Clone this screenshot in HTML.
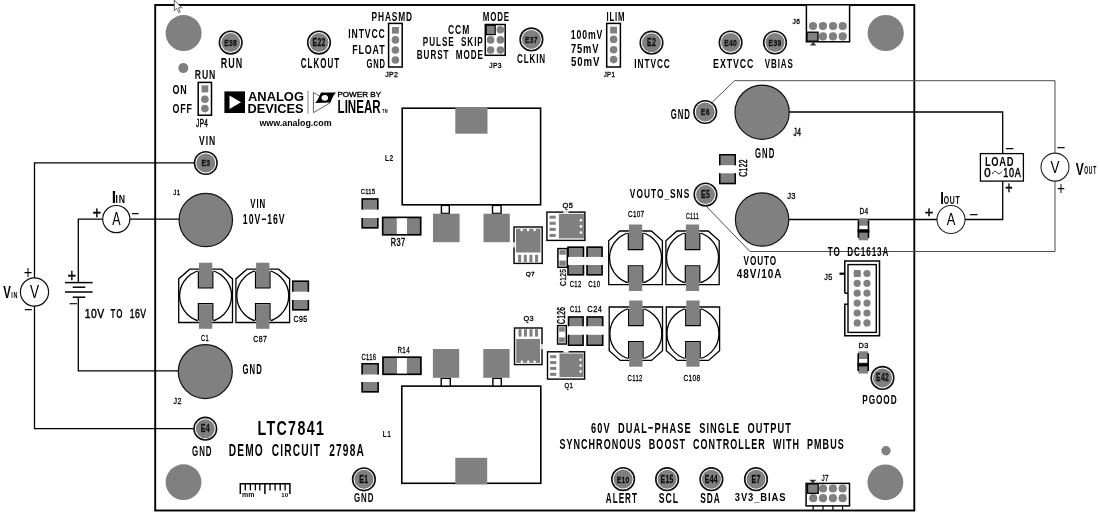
<!DOCTYPE html><html><head><meta charset="utf-8"><style>html,body{margin:0;padding:0;background:#fff;width:1100px;height:516px;overflow:hidden}svg{display:block;filter:grayscale(1);font-family:"Liberation Sans",sans-serif}text{white-space:pre}</style></head><body>
<svg width="1100" height="516" viewBox="0 0 1100 516">
<rect width="1100" height="516" fill="#fff"/>
<rect x="155.2" y="5" width="759.1" height="505.5" fill="none" stroke="#000" stroke-width="1.9"/>
<circle cx="183.6" cy="33.1" r="18" fill="#808080"/>
<circle cx="885.7" cy="33" r="18.1" fill="#808080"/>
<circle cx="183.5" cy="482.2" r="17.9" fill="#808080"/>
<circle cx="885.4" cy="482.3" r="17.9" fill="#808080"/>
<circle cx="183.3" cy="68.1" r="5" fill="#808080"/>
<circle cx="886" cy="450.7" r="4.7" fill="#808080"/>
<path d="M194.3,162.9 L34.5,162.9 L34.5,277.9" fill="none" stroke="#000" stroke-width="1.3" stroke-linejoin="miter"/>
<circle cx="34.5" cy="292" r="14.1" fill="#fff" stroke="#111" stroke-width="1.2"/>
<path d="M34.5,306.1 L34.5,428.6 L193.9,428.6" fill="none" stroke="#000" stroke-width="1.3" stroke-linejoin="miter"/>
<text transform="translate(3.29,297.65) scale(0.7316,1)" font-size="15.65" font-weight="bold" fill="#000" letter-spacing="1.476">V</text>
<text transform="translate(11.2,297.65) scale(0.5505,1)" font-size="9.86" font-weight="bold" fill="#000" letter-spacing="1.235">IN</text>
<text transform="translate(29.98,298.15) scale(0.7622,1)" font-size="17.83" font-weight="normal" fill="#000" letter-spacing="0.807">V</text>
<text transform="translate(23.82,279.12) scale(0.7883,1)" font-size="18.57" font-weight="normal" fill="#000" letter-spacing="0.577">+</text>
<text transform="translate(24.17,314.41) scale(1.0584,1)" font-size="12.86" font-weight="normal" fill="#000" letter-spacing="0.043" stroke="#000" stroke-width="0.3">−</text>
<path d="M102.7,219.1 L78.3,219.1 L78.3,282.6" fill="none" stroke="#000" stroke-width="1.3" stroke-linejoin="miter"/>
<path d="M129.9,219.1 L179,219.1" fill="none" stroke="#000" stroke-width="1.3" stroke-linejoin="miter"/>
<circle cx="116.3" cy="219.1" r="13.6" fill="#fff" stroke="#111" stroke-width="1.2"/>
<text transform="translate(112.15,225.45) scale(0.6835,1)" font-size="18.26" font-weight="normal" fill="#000" letter-spacing="0.922">A</text>
<text transform="translate(111.82,202.65) scale(0.9197,1)" font-size="17.25" font-weight="bold" fill="#000" letter-spacing="1.294">I</text>
<text transform="translate(115.58,202.65) scale(0.8224,1)" font-size="10.58" font-weight="bold" fill="#000" letter-spacing="0.888">IN</text>
<text transform="translate(92.62,217.62) scale(0.8966,1)" font-size="16.33" font-weight="normal" fill="#000" letter-spacing="0.446" stroke="#000" stroke-width="0.45">+</text>
<text transform="translate(131.52,217.71) scale(0.9782,1)" font-size="12.86" font-weight="normal" fill="#000" letter-spacing="0.046" stroke="#000" stroke-width="0.3">−</text>
<path d="M65,282.6 L92.6,282.6" fill="none" stroke="#000" stroke-width="1.5" stroke-linejoin="miter"/>
<path d="M72.7,287.2 L85.3,287.2" fill="none" stroke="#000" stroke-width="1.5" stroke-linejoin="miter"/>
<path d="M65,292 L92.6,292" fill="none" stroke="#000" stroke-width="1.5" stroke-linejoin="miter"/>
<path d="M72.7,297.2 L85.3,297.2" fill="none" stroke="#000" stroke-width="1.5" stroke-linejoin="miter"/>
<path d="M78.3,297.2 L78.3,370.9 L178.4,370.9" fill="none" stroke="#000" stroke-width="1.3" stroke-linejoin="miter"/>
<text transform="translate(67.42,282) scale(0.7970,1)" font-size="18.37" font-weight="normal" fill="#000" letter-spacing="0.565" stroke="#000" stroke-width="0.45">+</text>
<text transform="translate(69.43,307.05) scale(1.4433,1)" font-size="10" font-weight="normal" fill="#000" stroke="#000" stroke-width="0.3">−</text>
<text transform="translate(84.87,318.02) scale(0.8191,1)" font-size="12.68" font-weight="normal" fill="#000" letter-spacing="0.549" stroke="#000" stroke-width="0.45">10V</text>
<text transform="translate(110.57,318.02) scale(0.6335,1)" font-size="12.68" font-weight="bold" fill="#000" letter-spacing="1.421">TO</text>
<text transform="translate(129.7,318.02) scale(0.6842,1)" font-size="12.68" font-weight="normal" fill="#000" letter-spacing="0.658" stroke="#000" stroke-width="0.45">16V</text>
<path d="M712.3,102.2 L734.6,80.7 L1055,80.7 L1055,153.1" fill="none" stroke="#4d4d4d" stroke-width="1.0" stroke-linejoin="miter"/>
<path d="M1055,181.1 L1055,251.5 L750,251.5 L706.6,206.6" fill="none" stroke="#4d4d4d" stroke-width="1.0" stroke-linejoin="miter"/>
<circle cx="1055" cy="167.1" r="14" fill="#fff" stroke="#222" stroke-width="1.1"/>
<text transform="translate(1050.58,173.15) scale(0.7856,1)" font-size="17.1" font-weight="normal" fill="#000" letter-spacing="0.751">V</text>
<text transform="translate(1075.69,174.55) scale(0.6993,1)" font-size="17.25" font-weight="bold" fill="#000" letter-spacing="1.702">V</text>
<text transform="translate(1084.15,174.43) scale(0.4354,1)" font-size="11.55" font-weight="bold" fill="#000" letter-spacing="1.883">OUT</text>
<text transform="translate(1057.07,152.41) scale(1.0584,1)" font-size="12.86" font-weight="normal" fill="#000" letter-spacing="0.043" stroke="#000" stroke-width="0.3">−</text>
<text transform="translate(1057.07,194.6) scale(0.7409,1)" font-size="18.37" font-weight="normal" fill="#000" letter-spacing="0.607">+</text>
<path d="M789,112 L1002.7,112 L1002.7,153.6" fill="none" stroke="#000" stroke-width="1.3" stroke-linejoin="miter"/>
<rect x="980.4" y="153.6" width="43" height="27.5" fill="#fff" stroke="#000" stroke-width="1.3"/>
<text transform="translate(985.04,165.72) scale(0.7411,1)" font-size="12.68" font-weight="bold" fill="#000" letter-spacing="0.810">LOAD</text>
<text transform="translate(984.19,177.32) scale(0.8940,1)" font-size="12.82" font-weight="normal" fill="#000" letter-spacing="0.509" stroke="#000" stroke-width="0.5">0</text>
<path d="M992.3,174 C994,170.5 996,171 997,172.6 C998,174.2 1000,174.5 1001.7,171.5" fill="none" stroke="#000" stroke-width="0.9"/>
<text transform="translate(1003.37,177.32) scale(0.7114,1)" font-size="12.82" font-weight="normal" fill="#000" letter-spacing="0.843" stroke="#000" stroke-width="0.5">10A</text>
<text transform="translate(1005.22,152.61) scale(1.1386,1)" font-size="12.86" font-weight="normal" fill="#000" letter-spacing="0.040" stroke="#000" stroke-width="0.3">−</text>
<text transform="translate(1005.32,193.42) scale(0.7704,1)" font-size="16.33" font-weight="normal" fill="#000" letter-spacing="0.519" stroke="#000" stroke-width="0.45">+</text>
<path d="M1002.7,181.1 L1002.7,219.5 L965,219.5" fill="none" stroke="#000" stroke-width="1.3" stroke-linejoin="miter"/>
<circle cx="951" cy="219.5" r="14" fill="#fff" stroke="#222" stroke-width="1.1"/>
<text transform="translate(946.85,225.15) scale(0.7562,1)" font-size="17.1" font-weight="normal" fill="#000" letter-spacing="0.780">A</text>
<path d="M937,219.5 L789,219.5" fill="none" stroke="#000" stroke-width="1.3" stroke-linejoin="miter"/>
<text transform="translate(940.2,203.65) scale(0.7598,1)" font-size="17.25" font-weight="bold" fill="#000" letter-spacing="1.566">I</text>
<text transform="translate(943.68,203.54) scale(0.6248,1)" font-size="10.99" font-weight="bold" fill="#000" letter-spacing="1.248">OUT</text>
<text transform="translate(924.82,217.44) scale(1.0247,1)" font-size="14.29" font-weight="normal" fill="#000" letter-spacing="0.342" stroke="#000" stroke-width="0.45">+</text>
<text transform="translate(969.43,218.51) scale(1.1226,1)" font-size="12.86" font-weight="normal" fill="#000" letter-spacing="0.040" stroke="#000" stroke-width="0.3">−</text>
<circle cx="205.8" cy="220" r="26.7" fill="#808080" stroke="#111" stroke-width="1.2"/>
<circle cx="205.3" cy="371.6" r="27" fill="#808080" stroke="#111" stroke-width="1.2"/>
<circle cx="762.1" cy="112.2" r="27.1" fill="#808080" stroke="#111" stroke-width="1.2"/>
<circle cx="762.1" cy="219.5" r="26.7" fill="#808080" stroke="#111" stroke-width="1.2"/>
<circle cx="230.7" cy="42.6" r="11.3" fill="#fff" stroke="#111" stroke-width="1.6"/>
<circle cx="230.7" cy="42.6" r="9.5" fill="#808080"/>
<text transform="translate(224.29,46) scale(0.6827,1)" font-size="9.86" font-weight="bold" fill="#111" letter-spacing="0.439" stroke="#111" stroke-width="0.3">E38</text>
<circle cx="319" cy="42.6" r="11.3" fill="#fff" stroke="#111" stroke-width="1.6"/>
<circle cx="319" cy="42.6" r="9.5" fill="#808080"/>
<text transform="translate(312.54,46.1) scale(0.6830,1)" font-size="10" font-weight="bold" fill="#111" letter-spacing="0.439" stroke="#111" stroke-width="0.3">E22</text>
<circle cx="531.4" cy="39.4" r="11.3" fill="#fff" stroke="#111" stroke-width="1.6"/>
<circle cx="531.4" cy="39.4" r="9.5" fill="#808080"/>
<text transform="translate(525.03,42.8) scale(0.6825,1)" font-size="9.86" font-weight="bold" fill="#111" letter-spacing="0.440" stroke="#111" stroke-width="0.3">E37</text>
<circle cx="651.5" cy="42.7" r="11.3" fill="#fff" stroke="#111" stroke-width="1.6"/>
<circle cx="651.5" cy="42.7" r="9.5" fill="#808080"/>
<text transform="translate(647.04,46.2) scale(0.6920,1)" font-size="10" font-weight="bold" fill="#111" letter-spacing="0.434" stroke="#111" stroke-width="0.3">E2</text>
<circle cx="730.6" cy="42.5" r="11.3" fill="#fff" stroke="#111" stroke-width="1.6"/>
<circle cx="730.6" cy="42.5" r="9.5" fill="#808080"/>
<text transform="translate(724.23,45.9) scale(0.6825,1)" font-size="9.86" font-weight="bold" fill="#111" letter-spacing="0.440" stroke="#111" stroke-width="0.3">E40</text>
<circle cx="775" cy="42.5" r="11.3" fill="#fff" stroke="#111" stroke-width="1.6"/>
<circle cx="775" cy="42.5" r="9.5" fill="#808080"/>
<text transform="translate(768.61,45.9) scale(0.6826,1)" font-size="9.86" font-weight="bold" fill="#111" letter-spacing="0.439" stroke="#111" stroke-width="0.3">E39</text>
<circle cx="705.2" cy="112" r="11.3" fill="#fff" stroke="#111" stroke-width="1.6"/>
<circle cx="705.2" cy="112" r="9.5" fill="#808080"/>
<text transform="translate(700.79,115.4) scale(0.6917,1)" font-size="9.86" font-weight="bold" fill="#111" letter-spacing="0.434" stroke="#111" stroke-width="0.3">E6</text>
<circle cx="705.5" cy="194.6" r="11.3" fill="#fff" stroke="#111" stroke-width="1.6"/>
<circle cx="705.5" cy="194.6" r="9.5" fill="#808080"/>
<text transform="translate(700.99,198) scale(0.6923,1)" font-size="10" font-weight="bold" fill="#111" letter-spacing="0.433" stroke="#111" stroke-width="0.3">E5</text>
<circle cx="205.8" cy="163" r="11.3" fill="#fff" stroke="#111" stroke-width="1.6"/>
<circle cx="205.8" cy="163" r="9.5" fill="#808080"/>
<text transform="translate(201.39,166.4) scale(0.6917,1)" font-size="9.86" font-weight="bold" fill="#111" letter-spacing="0.434" stroke="#111" stroke-width="0.3">E3</text>
<circle cx="205.3" cy="428.7" r="11.3" fill="#fff" stroke="#111" stroke-width="1.6"/>
<circle cx="205.3" cy="428.7" r="9.5" fill="#808080"/>
<text transform="translate(200.65,432.2) scale(0.6931,1)" font-size="10.14" font-weight="bold" fill="#111" letter-spacing="0.433" stroke="#111" stroke-width="0.3">E4</text>
<circle cx="363.9" cy="479.3" r="11.3" fill="#fff" stroke="#111" stroke-width="1.6"/>
<circle cx="363.9" cy="479.3" r="9.5" fill="#808080"/>
<text transform="translate(359.32,482.8) scale(0.6927,1)" font-size="10.14" font-weight="bold" fill="#111" letter-spacing="0.433" stroke="#111" stroke-width="0.3">E1</text>
<circle cx="623.1" cy="479.1" r="11.3" fill="#fff" stroke="#111" stroke-width="1.6"/>
<circle cx="623.1" cy="479.1" r="9.5" fill="#808080"/>
<text transform="translate(616.73,482.5) scale(0.6825,1)" font-size="9.86" font-weight="bold" fill="#111" letter-spacing="0.440" stroke="#111" stroke-width="0.3">E10</text>
<circle cx="667.1" cy="479.2" r="11.3" fill="#fff" stroke="#111" stroke-width="1.6"/>
<circle cx="667.1" cy="479.2" r="9.5" fill="#808080"/>
<text transform="translate(660.58,482.6) scale(0.6834,1)" font-size="10" font-weight="bold" fill="#111" letter-spacing="0.439" stroke="#111" stroke-width="0.3">E15</text>
<circle cx="711.4" cy="479.2" r="11.3" fill="#fff" stroke="#111" stroke-width="1.6"/>
<circle cx="711.4" cy="479.2" r="9.5" fill="#808080"/>
<text transform="translate(704.71,482.7) scale(0.6843,1)" font-size="10.14" font-weight="bold" fill="#111" letter-spacing="0.438" stroke="#111" stroke-width="0.3">E44</text>
<circle cx="756" cy="479.2" r="11.3" fill="#fff" stroke="#111" stroke-width="1.6"/>
<circle cx="756" cy="479.2" r="9.5" fill="#808080"/>
<text transform="translate(751.48,482.7) scale(0.6923,1)" font-size="10.14" font-weight="bold" fill="#111" letter-spacing="0.433" stroke="#111" stroke-width="0.3">E7</text>
<circle cx="882.5" cy="377.9" r="11.3" fill="#fff" stroke="#111" stroke-width="1.6"/>
<circle cx="882.5" cy="377.9" r="9.5" fill="#808080"/>
<text transform="translate(876.04,381.4) scale(0.6830,1)" font-size="10" font-weight="bold" fill="#111" letter-spacing="0.439" stroke="#111" stroke-width="0.3">E42</text>
<rect x="198.2" y="82.4" width="13.3" height="32.8" fill="#fff" stroke="#000" stroke-width="1.5"/>
<rect x="201.6" y="85.3" width="6.7" height="7.1" fill="#808080"/>
<circle cx="204.9" cy="99.2" r="3.8" fill="#808080"/>
<circle cx="204.9" cy="108.6" r="3.8" fill="#808080"/>
<rect x="388.6" y="23.4" width="13.6" height="43.6" fill="#fff" stroke="#000" stroke-width="1.5"/>
<rect x="392" y="27" width="6.9" height="6.6" fill="#808080"/>
<circle cx="395.4" cy="39.9" r="3.8" fill="#808080"/>
<circle cx="395.4" cy="50" r="3.8" fill="#808080"/>
<circle cx="395.4" cy="60" r="3.8" fill="#808080"/>
<rect x="606.7" y="23.4" width="13.7" height="43.6" fill="#fff" stroke="#000" stroke-width="1.5"/>
<rect x="610.2" y="26.7" width="6.8" height="6.8" fill="#808080"/>
<circle cx="613.6" cy="39.4" r="3.8" fill="#808080"/>
<circle cx="613.6" cy="49.7" r="3.8" fill="#808080"/>
<circle cx="613.6" cy="59.6" r="3.8" fill="#808080"/>
<rect x="485.3" y="24.5" width="19.9" height="30.8" fill="#fff" stroke="#000" stroke-width="1.5"/>
<circle cx="490.6" cy="29.8" r="3.8" fill="#808080"/>
<circle cx="490.6" cy="39.9" r="3.8" fill="#808080"/>
<circle cx="490.6" cy="50" r="3.8" fill="#808080"/>
<circle cx="500.4" cy="29.8" r="3.8" fill="#808080"/>
<circle cx="500.4" cy="39.9" r="3.8" fill="#808080"/>
<circle cx="500.4" cy="50" r="3.8" fill="#808080"/>
<rect x="486.2" y="25.3" width="9" height="9.3" fill="#808080" stroke="#000" stroke-width="1.2"/>
<rect x="806.4" y="4.8" width="43.2" height="37" fill="#fff" stroke="#000" stroke-width="1.5"/>
<circle cx="813" cy="26" r="4.1" fill="#808080"/>
<circle cx="813" cy="36.4" r="4.1" fill="#808080"/>
<circle cx="822.9" cy="26" r="4.1" fill="#808080"/>
<circle cx="822.9" cy="36.4" r="4.1" fill="#808080"/>
<circle cx="833" cy="26" r="4.1" fill="#808080"/>
<circle cx="833" cy="36.4" r="4.1" fill="#808080"/>
<circle cx="842.7" cy="26" r="4.1" fill="#808080"/>
<circle cx="842.7" cy="36.4" r="4.1" fill="#808080"/>
<rect x="807" y="32.2" width="11" height="9" fill="#808080" stroke="#000" stroke-width="1.3"/>
<path d="M810,45.6 L816.4,45.6 L813.2,42 Z" fill="#333"/>
<rect x="806.1" y="483.4" width="43.4" height="22.5" fill="#fff" stroke="#000" stroke-width="1.5"/>
<circle cx="813.2" cy="488.5" r="4.1" fill="#808080"/>
<circle cx="813.2" cy="498.2" r="4.1" fill="#808080"/>
<path d="M813.2,505.9 L813.2,511" fill="none" stroke="#000" stroke-width="1.2" stroke-linejoin="miter"/>
<circle cx="823" cy="488.5" r="4.1" fill="#808080"/>
<circle cx="823" cy="498.2" r="4.1" fill="#808080"/>
<path d="M823,505.9 L823,511" fill="none" stroke="#000" stroke-width="1.2" stroke-linejoin="miter"/>
<circle cx="832.9" cy="488.5" r="4.1" fill="#808080"/>
<circle cx="832.9" cy="498.2" r="4.1" fill="#808080"/>
<path d="M832.9,505.9 L832.9,511" fill="none" stroke="#000" stroke-width="1.2" stroke-linejoin="miter"/>
<circle cx="842.6" cy="488.5" r="4.1" fill="#808080"/>
<circle cx="842.6" cy="498.2" r="4.1" fill="#808080"/>
<path d="M842.6,505.9 L842.6,511" fill="none" stroke="#000" stroke-width="1.2" stroke-linejoin="miter"/>
<rect x="807.5" y="483.9" width="10.7" height="9.4" fill="#808080" stroke="#000" stroke-width="1.3"/>
<path d="M809.2,479.8 L816.4,479.8 L812.8,483.2 Z" fill="#333"/>
<path d="M844.8,293.2 L844.8,261.1 L879.5,261.1 L879.5,335.8 L844.8,335.8 L844.8,304.3 L848,304.3 M844.8,293.2 L848,293.2" fill="none" stroke="#000" stroke-width="1.5"/>
<rect x="848" y="264.6" width="28.3" height="67.8" fill="none" stroke="#000" stroke-width="1.4"/>
<circle cx="857.2" cy="273.5" r="3.6" fill="#808080"/>
<circle cx="857.2" cy="283.3" r="3.6" fill="#808080"/>
<circle cx="857.2" cy="293.2" r="3.6" fill="#808080"/>
<circle cx="857.2" cy="303.1" r="3.6" fill="#808080"/>
<circle cx="857.2" cy="313" r="3.6" fill="#808080"/>
<circle cx="857.2" cy="322.9" r="3.6" fill="#808080"/>
<circle cx="867" cy="273.5" r="3.6" fill="#808080"/>
<circle cx="867" cy="283.3" r="3.6" fill="#808080"/>
<circle cx="867" cy="293.2" r="3.6" fill="#808080"/>
<circle cx="867" cy="303.1" r="3.6" fill="#808080"/>
<circle cx="867" cy="313" r="3.6" fill="#808080"/>
<circle cx="867" cy="322.9" r="3.6" fill="#808080"/>
<rect x="853.9" y="270" width="6.7" height="7" fill="#808080"/>
<rect x="839.5" y="272.6" width="5" height="2.2" fill="#000"/>
<rect x="858.6" y="218.4" width="9.7" height="21.9" fill="#808080"/>
<rect x="858.8" y="225.7" width="9.3" height="3.5" fill="#fff"/>
<rect x="857.6" y="229.4" width="11.7" height="3.2" fill="#000"/>
<rect x="857.6" y="220.4" width="1.6" height="17.4" fill="#000"/>
<rect x="867.7" y="220.4" width="1.6" height="17.4" fill="#000"/>
<rect x="858.4" y="351.3" width="9.6" height="22.2" fill="#808080"/>
<rect x="858.6" y="359" width="9.2" height="3.6" fill="#fff"/>
<rect x="857.4" y="363.2" width="11.6" height="3.2" fill="#000"/>
<rect x="857.4" y="353.3" width="1.6" height="17.7" fill="#000"/>
<rect x="867.4" y="353.3" width="1.6" height="17.7" fill="#000"/>
<rect x="719" y="154" width="17" height="11.2" fill="#808080"/>
<rect x="719" y="173.3" width="17" height="10.9" fill="#808080"/>
<path d="M719.75,165.2 L719.75,154.75 L735.25,154.75 L735.25,165.2" fill="none" stroke="#000" stroke-width="1.5" stroke-linejoin="miter"/>
<path d="M719.75,173.3 L719.75,183.45 L735.25,183.45 L735.25,173.3" fill="none" stroke="#000" stroke-width="1.5" stroke-linejoin="miter"/>
<rect x="361.5" y="198.3" width="17" height="11.3" fill="#808080"/>
<rect x="361.5" y="218" width="17" height="10.6" fill="#808080"/>
<path d="M362.25,209.6 L362.25,199.05 L377.75,199.05 L377.75,209.6" fill="none" stroke="#000" stroke-width="1.5" stroke-linejoin="miter"/>
<path d="M362.25,218 L362.25,227.85 L377.75,227.85 L377.75,218" fill="none" stroke="#000" stroke-width="1.5" stroke-linejoin="miter"/>
<rect x="361.4" y="363" width="17.5" height="11.5" fill="#808080"/>
<rect x="361.4" y="382" width="17.5" height="10.6" fill="#808080"/>
<path d="M362.15,374.5 L362.15,363.75 L378.15,363.75 L378.15,374.5" fill="none" stroke="#000" stroke-width="1.5" stroke-linejoin="miter"/>
<path d="M362.15,382 L362.15,391.85 L378.15,391.85 L378.15,382" fill="none" stroke="#000" stroke-width="1.5" stroke-linejoin="miter"/>
<rect x="292" y="280.6" width="17.1" height="11.1" fill="#808080"/>
<rect x="292" y="300" width="17.1" height="10.5" fill="#808080"/>
<path d="M292.75,291.7 L292.75,281.35 L308.35,281.35 L308.35,291.7" fill="none" stroke="#000" stroke-width="1.5" stroke-linejoin="miter"/>
<path d="M292.75,300 L292.75,309.75 L308.35,309.75 L308.35,300" fill="none" stroke="#000" stroke-width="1.5" stroke-linejoin="miter"/>
<rect x="567.3" y="246.4" width="16.9" height="10.5" fill="#808080"/>
<rect x="567.3" y="265" width="16.9" height="10.5" fill="#808080"/>
<path d="M568.05,256.9 L568.05,247.15 L583.45,247.15 L583.45,256.9" fill="none" stroke="#000" stroke-width="1.5" stroke-linejoin="miter"/>
<path d="M568.05,265 L568.05,274.75 L583.45,274.75 L583.45,265" fill="none" stroke="#000" stroke-width="1.5" stroke-linejoin="miter"/>
<rect x="586.3" y="246.4" width="16.5" height="10.5" fill="#808080"/>
<rect x="586.3" y="265" width="16.5" height="10.5" fill="#808080"/>
<path d="M587.05,256.9 L587.05,247.15 L602.05,247.15 L602.05,256.9" fill="none" stroke="#000" stroke-width="1.5" stroke-linejoin="miter"/>
<path d="M587.05,265 L587.05,274.75 L602.05,274.75 L602.05,265" fill="none" stroke="#000" stroke-width="1.5" stroke-linejoin="miter"/>
<rect x="567.8" y="316.2" width="16" height="10" fill="#808080"/>
<rect x="567.8" y="334.8" width="16" height="11.1" fill="#808080"/>
<path d="M568.55,326.2 L568.55,316.95 L583.05,316.95 L583.05,326.2" fill="none" stroke="#000" stroke-width="1.5" stroke-linejoin="miter"/>
<path d="M568.55,334.8 L568.55,345.15 L583.05,345.15 L583.05,334.8" fill="none" stroke="#000" stroke-width="1.5" stroke-linejoin="miter"/>
<rect x="586.4" y="316.2" width="17" height="10" fill="#808080"/>
<rect x="586.4" y="334.8" width="17" height="11.1" fill="#808080"/>
<path d="M587.15,326.2 L587.15,316.95 L602.65,316.95 L602.65,326.2" fill="none" stroke="#000" stroke-width="1.5" stroke-linejoin="miter"/>
<path d="M587.15,334.8 L587.15,345.15 L602.65,345.15 L602.65,334.8" fill="none" stroke="#000" stroke-width="1.5" stroke-linejoin="miter"/>
<rect x="557.9" y="248.6" width="9.4" height="18.7" fill="#fff" stroke="#000" stroke-width="1.5"/>
<rect x="559.4" y="250.1" width="6.4" height="4.67" fill="#808080"/>
<rect x="559.4" y="260.57" width="6.4" height="5.23" fill="#808080"/>
<rect x="557.6" y="325.6" width="8.7" height="18.4" fill="#fff" stroke="#000" stroke-width="1.5"/>
<rect x="559.1" y="327.1" width="5.7" height="4.57" fill="#808080"/>
<rect x="559.1" y="337.38" width="5.7" height="5.12" fill="#808080"/>
<rect x="382.7" y="217.4" width="38" height="17.4" fill="#808080" stroke="#000" stroke-width="1.7"/>
<rect x="396.8" y="218.25" width="10.2" height="15.7" fill="#fff"/>
<rect x="383" y="357.2" width="37.9" height="17.1" fill="#808080" stroke="#000" stroke-width="1.7"/>
<rect x="397" y="358.05" width="9.8" height="15.4" fill="#fff"/>
<rect x="402.2" y="108.2" width="138.4" height="96.6" fill="#fff" stroke="#000" stroke-width="1.6"/>
<rect x="455.3" y="107" width="32.2" height="26.7" fill="#808080"/>
<rect x="441.4" y="205.4" width="7.9" height="8" fill="#fff" stroke="#000" stroke-width="1.4"/>
<rect x="492.5" y="205.4" width="8.6" height="8" fill="#fff" stroke="#000" stroke-width="1.4"/>
<rect x="433" y="213.7" width="26.6" height="28.5" fill="#808080"/>
<rect x="483.5" y="213.7" width="26.3" height="28.5" fill="#808080"/>
<rect x="401.8" y="386.1" width="139" height="97.2" fill="#fff" stroke="#000" stroke-width="1.6"/>
<rect x="455.3" y="457.8" width="31.9" height="26.6" fill="#808080"/>
<rect x="441.2" y="378.3" width="9.1" height="7.8" fill="#fff" stroke="#000" stroke-width="1.4"/>
<rect x="492.9" y="378.3" width="8.4" height="7.8" fill="#fff" stroke="#000" stroke-width="1.4"/>
<rect x="432.9" y="349" width="26.3" height="28.8" fill="#808080"/>
<rect x="483.3" y="349" width="26.3" height="28.8" fill="#808080"/>
<path d="M178.7,322.5 L178.7,278.9 L189.7,269.2 L221.5,269.2 L232.5,278.9 L232.5,322.5 Z" fill="#fff" stroke="#000" stroke-width="1.3"/>
<circle cx="205.6" cy="295.85" r="26" fill="none" stroke="#000" stroke-width="1.3"/>
<rect x="197.75" y="270" width="15.7" height="18" fill="#fff"/>
<rect x="197.75" y="303.5" width="15.7" height="18.2" fill="#fff"/>
<rect x="198.95" y="262.7" width="13.3" height="24.5" fill="#808080"/>
<rect x="198.95" y="304.3" width="13.3" height="24.5" fill="#808080"/>
<rect x="198.45" y="287.2" width="14.3" height="17.1" fill="#fff"/>
<path d="M198.35,271.2 L198.35,287.8 L212.85,287.8 L212.85,271.2" fill="none" stroke="#000" stroke-width="1.2" stroke-linejoin="miter"/>
<path d="M198.35,320.5 L198.35,303.7 L212.85,303.7 L212.85,320.5" fill="none" stroke="#000" stroke-width="1.2" stroke-linejoin="miter"/>
<path d="M235.9,322.5 L235.9,278.9 L246.9,269.2 L278.6,269.2 L289.6,278.9 L289.6,322.5 Z" fill="#fff" stroke="#000" stroke-width="1.3"/>
<circle cx="262.75" cy="295.85" r="26" fill="none" stroke="#000" stroke-width="1.3"/>
<rect x="254.9" y="270" width="15.7" height="18" fill="#fff"/>
<rect x="254.9" y="303.5" width="15.7" height="18.2" fill="#fff"/>
<rect x="256.1" y="262.7" width="13.3" height="24.5" fill="#808080"/>
<rect x="256.1" y="304.3" width="13.3" height="24.5" fill="#808080"/>
<rect x="255.6" y="287.2" width="14.3" height="17.1" fill="#fff"/>
<path d="M255.5,271.2 L255.5,287.8 L270,287.8 L270,271.2" fill="none" stroke="#000" stroke-width="1.2" stroke-linejoin="miter"/>
<path d="M255.5,320.5 L255.5,303.7 L270,303.7 L270,320.5" fill="none" stroke="#000" stroke-width="1.2" stroke-linejoin="miter"/>
<path d="M608.7,284.7 L608.7,240.7 L619.7,231 L651.4,231 L662.4,240.7 L662.4,284.7 Z" fill="#fff" stroke="#000" stroke-width="1.3"/>
<circle cx="635.55" cy="257.85" r="26" fill="none" stroke="#000" stroke-width="1.3"/>
<rect x="627.7" y="231.8" width="15.7" height="18" fill="#fff"/>
<rect x="627.7" y="265.7" width="15.7" height="18.2" fill="#fff"/>
<rect x="628.9" y="224.5" width="13.3" height="24.5" fill="#808080"/>
<rect x="628.9" y="266.5" width="13.3" height="24.5" fill="#808080"/>
<rect x="628.4" y="249" width="14.3" height="17.5" fill="#fff"/>
<path d="M628.3,233 L628.3,249.6 L642.8,249.6 L642.8,233" fill="none" stroke="#000" stroke-width="1.2" stroke-linejoin="miter"/>
<path d="M628.3,282.7 L628.3,265.9 L642.8,265.9 L642.8,282.7" fill="none" stroke="#000" stroke-width="1.2" stroke-linejoin="miter"/>
<path d="M665.9,284.7 L665.9,240.7 L676.9,231 L708.2,231 L719.2,240.7 L719.2,284.7 Z" fill="#fff" stroke="#000" stroke-width="1.3"/>
<circle cx="692.55" cy="257.85" r="26" fill="none" stroke="#000" stroke-width="1.3"/>
<rect x="684.7" y="231.8" width="15.7" height="18" fill="#fff"/>
<rect x="684.7" y="265.7" width="15.7" height="18.2" fill="#fff"/>
<rect x="685.9" y="224.5" width="13.3" height="24.5" fill="#808080"/>
<rect x="685.9" y="266.5" width="13.3" height="24.5" fill="#808080"/>
<rect x="685.4" y="249" width="14.3" height="17.5" fill="#fff"/>
<path d="M685.3,233 L685.3,249.6 L699.8,249.6 L699.8,233" fill="none" stroke="#000" stroke-width="1.2" stroke-linejoin="miter"/>
<path d="M685.3,282.7 L685.3,265.9 L699.8,265.9 L699.8,282.7" fill="none" stroke="#000" stroke-width="1.2" stroke-linejoin="miter"/>
<path d="M609.2,307 L609.2,350.7 L620.2,360.4 L651.5,360.4 L662.5,350.7 L662.5,307 Z" fill="#fff" stroke="#000" stroke-width="1.3"/>
<circle cx="635.85" cy="333.7" r="26" fill="none" stroke="#000" stroke-width="1.3"/>
<rect x="628" y="307.8" width="15.7" height="18" fill="#fff"/>
<rect x="628" y="341.4" width="15.7" height="18.2" fill="#fff"/>
<rect x="629.2" y="300.5" width="13.3" height="24.5" fill="#808080"/>
<rect x="629.2" y="342.2" width="13.3" height="24.5" fill="#808080"/>
<rect x="628.7" y="325" width="14.3" height="17.2" fill="#fff"/>
<path d="M628.6,309 L628.6,325.6 L643.1,325.6 L643.1,309" fill="none" stroke="#000" stroke-width="1.2" stroke-linejoin="miter"/>
<path d="M628.6,358.4 L628.6,341.6 L643.1,341.6 L643.1,358.4" fill="none" stroke="#000" stroke-width="1.2" stroke-linejoin="miter"/>
<path d="M666.3,307 L666.3,350.7 L677.3,360.4 L708.6,360.4 L719.6,350.7 L719.6,307 Z" fill="#fff" stroke="#000" stroke-width="1.3"/>
<circle cx="692.95" cy="333.7" r="26" fill="none" stroke="#000" stroke-width="1.3"/>
<rect x="685.1" y="307.8" width="15.7" height="18" fill="#fff"/>
<rect x="685.1" y="341.4" width="15.7" height="18.2" fill="#fff"/>
<rect x="686.3" y="300.5" width="13.3" height="24.5" fill="#808080"/>
<rect x="686.3" y="342.2" width="13.3" height="24.5" fill="#808080"/>
<rect x="685.8" y="325" width="14.3" height="17.2" fill="#fff"/>
<path d="M685.7,309 L685.7,325.6 L700.2,325.6 L700.2,309" fill="none" stroke="#000" stroke-width="1.2" stroke-linejoin="miter"/>
<path d="M685.7,358.4 L685.7,341.6 L700.2,341.6 L700.2,358.4" fill="none" stroke="#000" stroke-width="1.2" stroke-linejoin="miter"/>
<rect x="546.9" y="212.1" width="38" height="28.3" fill="#fff" stroke="#000" stroke-width="1.4"/>
<rect x="558.9" y="213.8" width="25" height="24.6" fill="#808080"/>
<rect x="549.5" y="215.69" width="6.2" height="3" fill="#808080"/>
<rect x="549.5" y="221.78" width="6.2" height="3" fill="#808080"/>
<rect x="549.5" y="227.86" width="6.2" height="3" fill="#808080"/>
<rect x="549.5" y="233.95" width="6.2" height="3" fill="#808080"/>
<circle cx="580.9" cy="220.31" r="1.3" fill="#fff"/>
<circle cx="580.9" cy="226.39" r="1.3" fill="#fff"/>
<circle cx="580.9" cy="232.48" r="1.3" fill="#fff"/>
<rect x="563.3" y="211.3" width="5.2" height="1.6" fill="#fff"/>
<rect x="547.5" y="351.8" width="37.1" height="27.3" fill="#fff" stroke="#000" stroke-width="1.4"/>
<rect x="559.5" y="353.5" width="24.1" height="23.6" fill="#808080"/>
<rect x="550.1" y="355.21" width="6.2" height="3" fill="#808080"/>
<rect x="550.1" y="361.08" width="6.2" height="3" fill="#808080"/>
<rect x="550.1" y="366.95" width="6.2" height="3" fill="#808080"/>
<rect x="550.1" y="372.82" width="6.2" height="3" fill="#808080"/>
<circle cx="580.6" cy="359.72" r="1.3" fill="#fff"/>
<circle cx="580.6" cy="365.59" r="1.3" fill="#fff"/>
<circle cx="580.6" cy="371.46" r="1.3" fill="#fff"/>
<rect x="563.45" y="351" width="5.2" height="1.6" fill="#fff"/>
<rect x="514" y="227" width="28.2" height="36.4" fill="#fff" stroke="#000" stroke-width="1.4"/>
<rect x="516" y="228.7" width="24.5" height="23.78" fill="#808080"/>
<circle cx="521.61" cy="229.9" r="1.3" fill="#fff"/>
<circle cx="528.1" cy="229.9" r="1.3" fill="#fff"/>
<circle cx="534.59" cy="229.9" r="1.3" fill="#fff"/>
<rect x="518.14" y="254.8" width="3" height="7.4" fill="#808080"/>
<rect x="523.78" y="254.8" width="3" height="7.4" fill="#808080"/>
<rect x="529.42" y="254.8" width="3" height="7.4" fill="#808080"/>
<rect x="535.06" y="254.8" width="3" height="7.4" fill="#808080"/>
<rect x="513.2" y="242.29" width="1.6" height="5.1" fill="#fff"/>
<rect x="514.5" y="328" width="27.5" height="36.6" fill="#fff" stroke="#000" stroke-width="1.4"/>
<rect x="516.2" y="338.98" width="23.8" height="23.92" fill="#808080"/>
<circle cx="521.92" cy="361.7" r="1.3" fill="#fff"/>
<circle cx="528.25" cy="361.7" r="1.3" fill="#fff"/>
<circle cx="534.58" cy="361.7" r="1.3" fill="#fff"/>
<rect x="518.5" y="329.2" width="3" height="7.4" fill="#808080"/>
<rect x="524" y="329.2" width="3" height="7.4" fill="#808080"/>
<rect x="529.5" y="329.2" width="3" height="7.4" fill="#808080"/>
<rect x="535" y="329.2" width="3" height="7.4" fill="#808080"/>
<rect x="541.2" y="344.1" width="1.6" height="5.12" fill="#fff"/>
<rect x="224.4" y="91.4" width="20.6" height="21.6" fill="#000"/>
<path d="M229.5,95.5 L229.5,109 L241,102.2 Z" fill="#fff"/>
<text transform="translate(248.03,100.92) scale(0.9855,1)" font-size="13.1" font-weight="bold" fill="#000">ANALOG</text>
<text transform="translate(247.52,112.51) scale(0.9350,1)" font-size="13.66" font-weight="bold" fill="#000">DEVICES</text>
<path d="M308,91 L308,113.7" fill="none" stroke="#777" stroke-width="0.9" stroke-linejoin="miter"/>
<path d="M313.4,92.3 L313.4,112.7 L330.5,102.6 M313.4,92.3 L321,97" fill="none" stroke="#555" stroke-width="0.9"/>
<path d="M321,92.6 L336,92.6 C333.5,95 331.8,99 330.5,102.6 L315,102.9 C318,101 319.5,95.5 321,92.6 Z" fill="#000"/>
<ellipse cx="324.8" cy="97.8" rx="3.3" ry="2.9" fill="#fff"/>
<text transform="translate(337.4,96.99) scale(1.2795,1)" font-size="6.34" font-weight="normal" fill="#000" stroke="#000" stroke-width="0.3">POWER BY</text>
<text transform="translate(337.6,113.35) scale(0.6040,1)" font-size="19.13" font-weight="bold" fill="#000">LINEAR</text>
<text transform="translate(382.32,113.35) scale(0.6928,1)" font-size="4.93" font-weight="bold" fill="#000" letter-spacing="0.491">TM</text>
<text transform="translate(259.39,125.79) scale(1.0003,1)" font-size="8.88" font-weight="bold" fill="#000">www.analog.com</text>
<text transform="translate(220.77,67.5) scale(0.6091,1)" font-size="14.71" font-weight="bold" fill="#000" letter-spacing="1.691">RUN</text>
<text transform="translate(300.73,67.5) scale(0.5520,1)" font-size="14.51" font-weight="bold" fill="#000" letter-spacing="1.866">CLKOUT</text>
<text transform="translate(194.79,78.83) scale(0.7032,1)" font-size="12.29" font-weight="bold" fill="#000" letter-spacing="1.223">RUN</text>
<text transform="translate(172.49,93.93) scale(0.7272,1)" font-size="12.25" font-weight="bold" fill="#000" letter-spacing="1.196">ON</text>
<text transform="translate(172.5,112.53) scale(0.7325,1)" font-size="12.11" font-weight="bold" fill="#000" letter-spacing="1.174">OFF</text>
<text transform="translate(196.05,126.55) scale(0.6166,1)" font-size="10.43" font-weight="normal" fill="#000" letter-spacing="0.592" stroke="#000" stroke-width="0.45">JP4</text>
<text transform="translate(199.11,144.65) scale(0.6345,1)" font-size="13.48" font-weight="bold" fill="#000" letter-spacing="1.466">VIN</text>
<text transform="translate(250.31,208.05) scale(0.6245,1)" font-size="12.61" font-weight="bold" fill="#000" letter-spacing="1.393">VIN</text>
<text transform="translate(242.83,224.21) scale(0.6297,1)" font-size="13.8" font-weight="bold" fill="#000" letter-spacing="1.556">10V−16V</text>
<text transform="translate(173.26,194.78) scale(0.8615,1)" font-size="7.29" font-weight="normal" fill="#000" letter-spacing="0.296" stroke="#000" stroke-width="0.3">J1</text>
<text transform="translate(201.06,340.55) scale(0.5802,1)" font-size="9.86" font-weight="normal" fill="#000" letter-spacing="0.603" stroke="#000" stroke-width="0.3">C1</text>
<text transform="translate(253.3,341.55) scale(0.7132,1)" font-size="9.86" font-weight="normal" fill="#000" letter-spacing="0.491" stroke="#000" stroke-width="0.3">C87</text>
<text transform="translate(293.6,322.26) scale(0.7668,1)" font-size="9.15" font-weight="normal" fill="#000" letter-spacing="0.424" stroke="#000" stroke-width="0.3">C95</text>
<text transform="translate(242.44,373.5) scale(0.5245,1)" font-size="14.79" font-weight="bold" fill="#000" letter-spacing="2.002">GND</text>
<text transform="translate(173.54,403.85) scale(0.7446,1)" font-size="9.58" font-weight="normal" fill="#000" letter-spacing="0.457" stroke="#000" stroke-width="0.3">J2</text>
<text transform="translate(192.03,455.51) scale(0.5670,1)" font-size="13.94" font-weight="bold" fill="#000" letter-spacing="1.746">GND</text>
<text transform="translate(257.43,434.76) scale(0.7312,1)" font-size="19.44" font-weight="bold" fill="#000" letter-spacing="1.887">LTC7841</text>
<text transform="translate(228.69,456.39) scale(0.6166,1)" font-size="16.48" font-weight="bold" fill="#000" letter-spacing="1.898">DEMO  CIRCUIT  2798A</text>
<text transform="translate(354.03,502.02) scale(0.6154,1)" font-size="12.82" font-weight="bold" fill="#000" letter-spacing="1.479">GND</text>
<text transform="translate(371.61,20.83) scale(0.6878,1)" font-size="12.11" font-weight="bold" fill="#000" letter-spacing="1.250">PHASMD</text>
<text transform="translate(348.29,37.83) scale(0.7164,1)" font-size="12.11" font-weight="bold" fill="#000" letter-spacing="1.200">INTVCC</text>
<text transform="translate(352.17,54.12) scale(0.7098,1)" font-size="12.54" font-weight="bold" fill="#000" letter-spacing="1.254">FLOAT</text>
<text transform="translate(366.45,68.13) scale(0.6242,1)" font-size="12.11" font-weight="bold" fill="#000" letter-spacing="1.378">GND</text>
<text transform="translate(385.24,77.47) scale(0.9165,1)" font-size="7.75" font-weight="normal" fill="#000" letter-spacing="0.300" stroke="#000" stroke-width="0.3">JP2</text>
<text transform="translate(482.73,20.83) scale(0.6553,1)" font-size="12.11" font-weight="bold" fill="#000" letter-spacing="1.312">MODE</text>
<text transform="translate(448.01,33.82) scale(0.6565,1)" font-size="12.96" font-weight="bold" fill="#000" letter-spacing="1.401">CCM</text>
<text transform="translate(422.82,46.42) scale(0.6141,1)" font-size="13.24" font-weight="bold" fill="#000" letter-spacing="1.531">PULSE  SKIP</text>
<text transform="translate(416.82,58.82) scale(0.6108,1)" font-size="13.24" font-weight="bold" fill="#000" letter-spacing="1.539">BURST  MODE</text>
<text transform="translate(489.25,68.17) scale(0.8722,1)" font-size="7.75" font-weight="normal" fill="#000" letter-spacing="0.315" stroke="#000" stroke-width="0.3">JP3</text>
<text transform="translate(517.03,62.63) scale(0.6677,1)" font-size="12.11" font-weight="bold" fill="#000" letter-spacing="1.288">CLKIN</text>
<text transform="translate(606.44,20.95) scale(0.6247,1)" font-size="12.46" font-weight="bold" fill="#000" letter-spacing="1.377">ILIM</text>
<text transform="translate(570.83,39.43) scale(0.7200,1)" font-size="12.11" font-weight="bold" fill="#000" letter-spacing="1.194">100mV</text>
<text transform="translate(570.98,52.53) scale(0.7717,1)" font-size="12.14" font-weight="bold" fill="#000" letter-spacing="1.102">75mV</text>
<text transform="translate(571.06,65.73) scale(0.8051,1)" font-size="11.97" font-weight="bold" fill="#000" letter-spacing="1.056">50mV</text>
<text transform="translate(603.76,77.47) scale(0.7859,1)" font-size="7.86" font-weight="normal" fill="#000" letter-spacing="0.350" stroke="#000" stroke-width="0.3">JP1</text>
<text transform="translate(634.31,68.12) scale(0.6263,1)" font-size="13.24" font-weight="bold" fill="#000" letter-spacing="1.501">INTVCC</text>
<text transform="translate(713.08,68.12) scale(0.6648,1)" font-size="13.24" font-weight="bold" fill="#000" letter-spacing="1.414">EXTVCC</text>
<text transform="translate(764.71,68.12) scale(0.6048,1)" font-size="13.24" font-weight="bold" fill="#000" letter-spacing="1.554">VBIAS</text>
<text transform="translate(792.55,23.97) scale(0.8681,1)" font-size="7.75" font-weight="normal" fill="#000" letter-spacing="0.317" stroke="#000" stroke-width="0.3">J6</text>
<text transform="translate(670.74,118.91) scale(0.5570,1)" font-size="13.94" font-weight="bold" fill="#000" letter-spacing="1.777">GND</text>
<text transform="translate(793.55,135.55) scale(0.6299,1)" font-size="10.43" font-weight="normal" fill="#000" letter-spacing="0.579" stroke="#000" stroke-width="0.45">J4</text>
<text transform="translate(755.04,157.71) scale(0.5507,1)" font-size="14.08" font-weight="bold" fill="#000" letter-spacing="1.816">GND</text>
<text transform="translate(629.81,198.13) scale(0.6900,1)" font-size="12.12" font-weight="bold" fill="#000" letter-spacing="1.449">VOUTO_SNS</text>
<text transform="translate(787.24,198.56) scale(0.8548,1)" font-size="8.87" font-weight="normal" fill="#000" letter-spacing="0.368" stroke="#000" stroke-width="0.3">J3</text>
<text transform="translate(859.42,213.65) scale(0.7601,1)" font-size="8.7" font-weight="normal" fill="#000" letter-spacing="0.395" stroke="#000" stroke-width="0.3">D4</text>
<text transform="translate(827.87,255.52) scale(0.6361,1)" font-size="12.82" font-weight="bold" fill="#000" letter-spacing="1.431">TO  DC1613A</text>
<text transform="translate(743.61,265.12) scale(0.6547,1)" font-size="12.54" font-weight="bold" fill="#000" letter-spacing="1.359">VOUTO</text>
<text transform="translate(736.7,277.58) scale(0.7431,1)" font-size="13.42" font-weight="bold" fill="#000" letter-spacing="1.346">48V/10A</text>
<text transform="translate(824.24,279.55) scale(0.7462,1)" font-size="9.86" font-weight="normal" fill="#000" letter-spacing="0.462" stroke="#000" stroke-width="0.3">J5</text>
<text transform="translate(858.56,348.38) scale(1.0300,1)" font-size="7.18" font-weight="normal" fill="#000" letter-spacing="0.248" stroke="#000" stroke-width="0.3">D3</text>
<text transform="translate(862.21,403.92) scale(0.6289,1)" font-size="13.1" font-weight="bold" fill="#000" letter-spacing="1.479">PGOOD</text>
<text transform="translate(591.03,432.5) scale(0.6030,1)" font-size="15.35" font-weight="bold" fill="#000" letter-spacing="1.808">60V  DUAL−PHASE  SINGLE  OUTPUT</text>
<text transform="translate(559.48,449) scale(0.6137,1)" font-size="14.65" font-weight="bold" fill="#000" letter-spacing="1.695">SYNCHRONOUS  BOOST  CONTROLLER  WITH  PMBUS</text>
<text transform="translate(605.85,503.05) scale(0.5744,1)" font-size="14.2" font-weight="bold" fill="#000" letter-spacing="1.706">ALERT</text>
<text transform="translate(658.69,502.91) scale(0.6289,1)" font-size="13.8" font-weight="bold" fill="#000" letter-spacing="1.558">SCL</text>
<text transform="translate(700.3,502.91) scale(0.6043,1)" font-size="13.8" font-weight="bold" fill="#000" letter-spacing="1.622">SDA</text>
<text transform="translate(734.81,501.15) scale(0.9065,1)" font-size="10.42" font-weight="bold" fill="#000" letter-spacing="0.949">3V3_BIAS</text>
<text transform="translate(821.45,480.95) scale(0.6717,1)" font-size="9.57" font-weight="normal" fill="#000" letter-spacing="0.499" stroke="#000" stroke-width="0.3">J7</text>
<text transform="translate(384.92,161.25) scale(0.7567,1)" font-size="8.71" font-weight="bold" fill="#000" letter-spacing="0.806">L2</text>
<text transform="translate(360.66,193.77) scale(0.7676,1)" font-size="7.61" font-weight="normal" fill="#000" letter-spacing="0.352" stroke="#000" stroke-width="0.3">C115</text>
<text transform="translate(390.76,246.34) scale(0.6871,1)" font-size="10.7" font-weight="normal" fill="#000" letter-spacing="0.553" stroke="#000" stroke-width="0.45">R37</text>
<text transform="translate(562.61,208.13) scale(1.0783,1)" font-size="6.97" font-weight="normal" fill="#000" letter-spacing="0.287" stroke="#000" stroke-width="0.3">Q5</text>
<text transform="translate(525.65,275.52) scale(1.1017,1)" font-size="5.96" font-weight="normal" fill="#000" letter-spacing="0.241" stroke="#000" stroke-width="0.3">Q7</text>
<text transform="translate(569.75,287.26) scale(0.6671,1)" font-size="8.87" font-weight="normal" fill="#000" letter-spacing="0.472" stroke="#000" stroke-width="0.3">C12</text>
<text transform="translate(588.35,287.26) scale(0.6807,1)" font-size="8.87" font-weight="normal" fill="#000" letter-spacing="0.463" stroke="#000" stroke-width="0.3">C10</text>
<text transform="translate(628.03,217.36) scale(0.7044,1)" font-size="9.01" font-weight="normal" fill="#000" letter-spacing="0.454" stroke="#000" stroke-width="0.3">C107</text>
<text transform="translate(685.99,218.56) scale(0.5913,1)" font-size="8.87" font-weight="normal" fill="#000" letter-spacing="0.533" stroke="#000" stroke-width="0.3">C111</text>
<text transform="translate(627.55,381.25) scale(0.6213,1)" font-size="9.58" font-weight="normal" fill="#000" letter-spacing="0.547" stroke="#000" stroke-width="0.3">C112</text>
<text transform="translate(683.42,381.25) scale(0.6937,1)" font-size="9.58" font-weight="normal" fill="#000" letter-spacing="0.490" stroke="#000" stroke-width="0.3">C108</text>
<text transform="translate(523.52,321.22) scale(0.9740,1)" font-size="7.53" font-weight="normal" fill="#000" letter-spacing="0.344" stroke="#000" stroke-width="0.3">Q3</text>
<text transform="translate(564.48,388.4) scale(0.7948,1)" font-size="7.64" font-weight="normal" fill="#000" letter-spacing="0.428" stroke="#000" stroke-width="0.3">Q1</text>
<text transform="translate(570.06,311.96) scale(0.6129,1)" font-size="9.44" font-weight="normal" fill="#000" letter-spacing="0.547" stroke="#000" stroke-width="0.3">C11</text>
<text transform="translate(587.37,311.96) scale(0.7989,1)" font-size="9.44" font-weight="normal" fill="#000" letter-spacing="0.419" stroke="#000" stroke-width="0.3">C24</text>
<text transform="translate(382.74,436.65) scale(0.6764,1)" font-size="9.42" font-weight="bold" fill="#000" letter-spacing="0.961">L1</text>
<text transform="translate(361.46,359.86) scale(0.6339,1)" font-size="9.3" font-weight="normal" fill="#000" letter-spacing="0.521" stroke="#000" stroke-width="0.3">C116</text>
<text transform="translate(397.45,353.35) scale(0.6677,1)" font-size="9.42" font-weight="normal" fill="#000" letter-spacing="0.487" stroke="#000" stroke-width="0.3">R14</text>
<text transform="translate(747.35,176.79) rotate(-90) scale(0.6828,1)" font-size="10" font-weight="normal" fill="#000" letter-spacing="0.520" stroke="#000" stroke-width="0.45">C122</text>
<text transform="translate(565.76,285.98) rotate(-90) scale(0.7524,1)" font-size="8.87" font-weight="normal" fill="#000" letter-spacing="0.419" stroke="#000" stroke-width="0.3">C125</text>
<text transform="translate(565.05,323.98) rotate(-90) scale(0.6430,1)" font-size="10.28" font-weight="normal" fill="#000" letter-spacing="0.568" stroke="#000" stroke-width="0.45">C126</text>
<path d="M240.3,494 L240.3,483.7 L289.9,483.7 L289.9,494 M264.9,483.7 L264.9,494" fill="none" stroke="#000" stroke-width="1.5"/>
<path d="M245.3,483.7 L245.3,490.4" fill="none" stroke="#000" stroke-width="1.3" stroke-linejoin="miter"/>
<path d="M250.4,483.7 L250.4,490.4" fill="none" stroke="#000" stroke-width="1.3" stroke-linejoin="miter"/>
<path d="M255.4,483.7 L255.4,490.4" fill="none" stroke="#000" stroke-width="1.3" stroke-linejoin="miter"/>
<path d="M259.8,483.7 L259.8,490.4" fill="none" stroke="#000" stroke-width="1.3" stroke-linejoin="miter"/>
<path d="M270,483.7 L270,490.4" fill="none" stroke="#000" stroke-width="1.3" stroke-linejoin="miter"/>
<path d="M275.1,483.7 L275.1,490.4" fill="none" stroke="#000" stroke-width="1.3" stroke-linejoin="miter"/>
<path d="M280.2,483.7 L280.2,490.4" fill="none" stroke="#000" stroke-width="1.3" stroke-linejoin="miter"/>
<path d="M285.1,483.7 L285.1,490.4" fill="none" stroke="#000" stroke-width="1.3" stroke-linejoin="miter"/>
<text transform="translate(242.1,497.45) scale(1.0721,1)" font-size="6.48" font-weight="bold" fill="#000">mm</text>
<text transform="translate(281.19,497.39) scale(0.9746,1)" font-size="6.2" font-weight="bold" fill="#000" letter-spacing="0.308">10</text>
<path d="M174.3,0 L174.3,10.6 L176.7,8.4 L178.6,12.5 L180.2,11.8 L178.4,7.8 L181.7,7.8 Z" fill="#fff" stroke="#444" stroke-width="0.8"/>
</svg></body></html>
